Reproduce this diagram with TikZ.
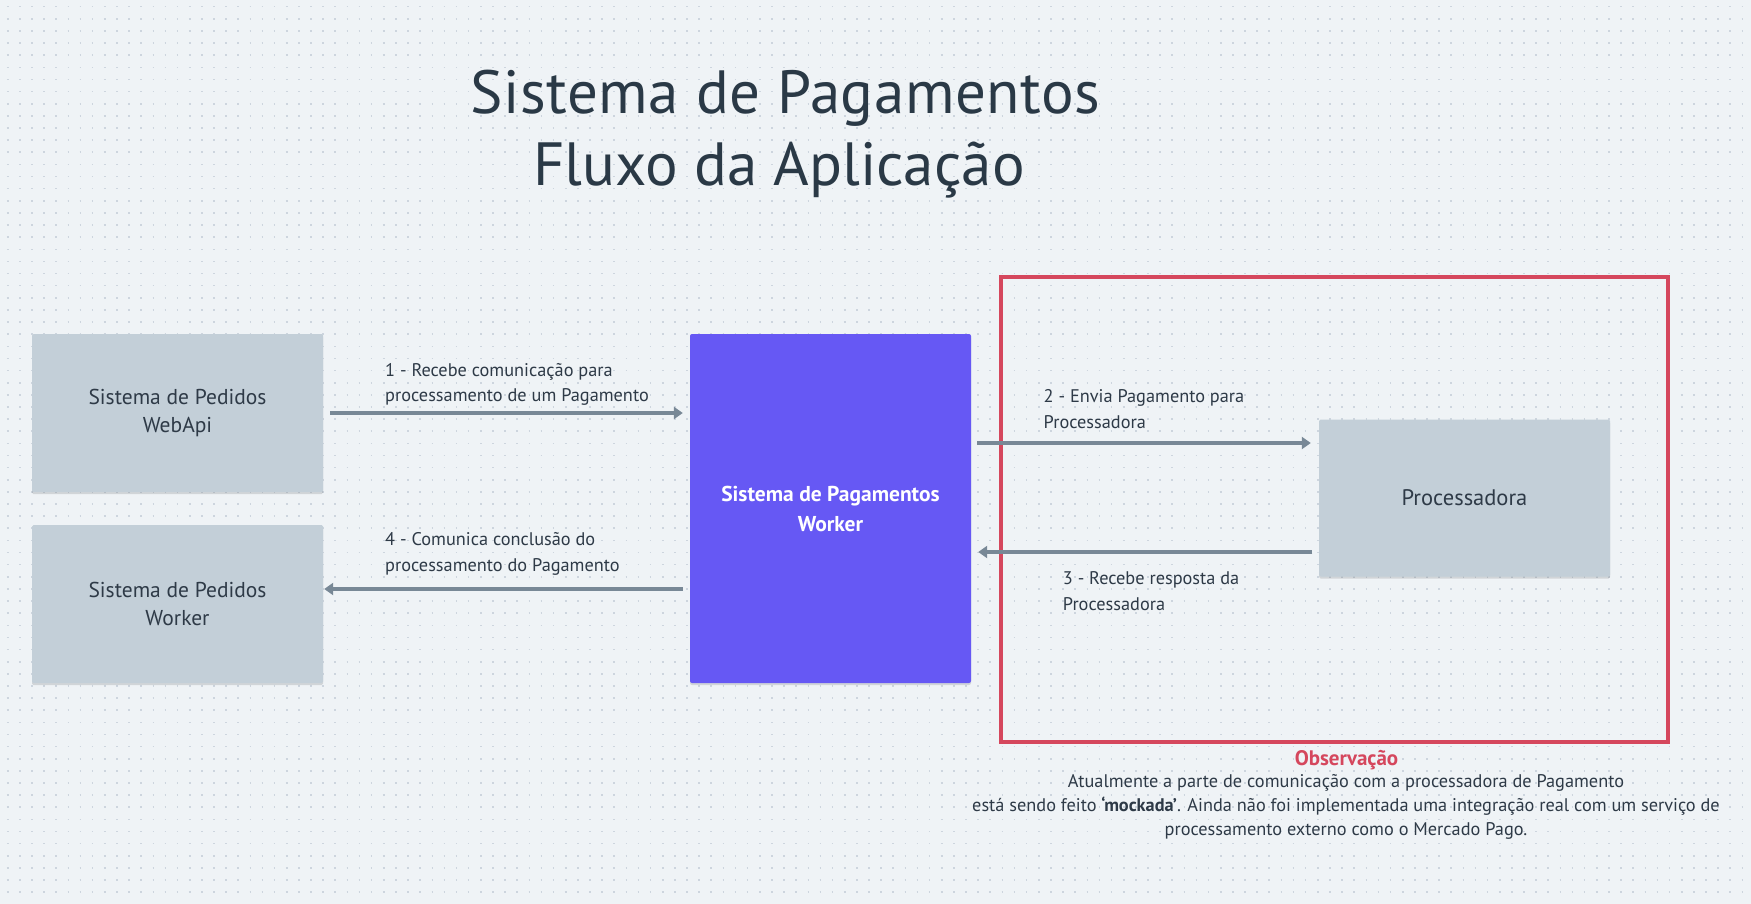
\documentclass[tikz,border=0pt]{standalone}
\usepackage{fontspec}
\setmainfont{PT Sans}
\usetikzlibrary{arrows.meta,shadows}
\definecolor{bgc}{HTML}{EFF3F6}
\definecolor{dotc}{HTML}{CDD5DE}
\definecolor{boxgray}{HTML}{C3CFD8}
\definecolor{purp}{HTML}{6658F4}
\definecolor{redf}{HTML}{D5475D}
\definecolor{arrc}{HTML}{788896}
\definecolor{txtc}{HTML}{2E3A47}
\definecolor{titc}{HTML}{2A3946}
\tikzset{
  graybox/.style={rectangle, fill=boxgray, rounded corners=1.5pt, text=txtc, align=center,
    inner sep=0pt, font=\fontsize{21.5}{28}\selectfont,
    drop shadow={shadow xshift=0pt, shadow yshift=-2pt, opacity=0.12, fill=black}},
  purpbox/.style={rectangle, fill=purp, rounded corners=2pt, text=white, align=center,
    inner sep=0pt, font=\fontsize{21.5}{30}\selectfont\bfseries,
    drop shadow={shadow xshift=0pt, shadow yshift=-2pt, opacity=0.12, fill=black}},
  lbl/.style={text=txtc, align=left, inner sep=0pt, anchor=west, font=\fontsize{18.3}{25.5}\selectfont},
  arr/.style={draw=arrc, line width=3.3pt, -{Triangle[length=9pt,width=12pt]}},
  titletxt/.style={text=titc, inner sep=0pt, anchor=base, font=\fontsize{61}{72}\selectfont},
  dotrow/.style={draw=dotc, line width=1.6pt, dash pattern=on 1.6pt off 10.53pt, dash phase=5.18pt},
}
\begin{document}
\begin{tikzpicture}[x=1pt,y=-1pt]
\useasboundingbox (0,0) rectangle (1751,904);
\fill[bgc] (0,0) rectangle (1751,904);
\foreach \k in {0,...,74}{
  \draw[dotrow] (0,{6.7+12.13*\k}) -- (1751,{6.7+12.13*\k});
}
% title
\node[titletxt] (t1) at (785.4,113.3) {\addfontfeature{LetterSpace=1.0}Sistema de Pagamentos};
\node[titletxt] (t2) at (778.9,186) {Fluxo da Aplicação};
% boxes
\node[graybox, minimum width=291pt, minimum height=158pt] (webapi) at (177.5,413) {Sistema de Pedidos\\WebApi};
\node[graybox, minimum width=291pt, minimum height=158pt] (pedworker) at (177.5,604) {Sistema de Pedidos\\Worker};
\node[purpbox, minimum width=281pt, minimum height=349pt] (pagworker) at (830.5,508.5) {Sistema de Pagamentos\\Worker};
\node[graybox, minimum width=291pt, minimum height=157pt, font=\fontsize{22.5}{28}\selectfont] (proc) at (1464.5,498) {Processadora};
% red frame
\draw[redf, line width=3.4pt] (1001,277) rectangle (1668,742);
% arrows
\draw[arr, shorten <=7pt, shorten >=7pt] (webapi.east) -- (webapi.east -| pagworker.west);
\draw[arr, shorten <=7pt, shorten >=1pt] ([yshift=15pt]pagworker.west |- pedworker.east) -- ([yshift=15pt]pedworker.east);
\draw[arr, shorten <=6pt, shorten >=8pt] ([yshift=55pt]pagworker.east |- proc.west) -- ([yshift=55pt]proc.west);
\draw[arr, shorten <=6.5pt, shorten >=7pt] ([yshift=-54pt]proc.west) -- ([yshift=-54pt]pagworker.east |- proc.west);
% labels
\node[lbl] (l1) at (385,384.6) {1 - Recebe comunicação para\\processamento de um Pagamento};
\node[lbl] (l4) at (385,554) {4 - Comunica conclusão do\\processamento do Pagamento};
\node[lbl] (l2) at (1043.5,409) {2 - Envia Pagamento para\\Processadora};
\node[lbl] (l3) at (1062.7,591) {3 - Recebe resposta da\\Processadora};
% observation
\node[text=redf, inner sep=0pt, font=\fontsize{21}{24}\selectfont\bfseries] (obs) at (1346.5,760.5) {Observação};
\node[text=txtc, inner sep=0pt, align=center, font=\fontsize{18.3}{24}\selectfont] (obstxt) at (1346,807) {Atualmente a parte de comunicação com a processadora de Pagamento\\está sendo feito \textbf{‘mockada’}. Ainda não foi implementada uma integração real com um serviço de\\processamento externo como o Mercado Pago.};
\end{tikzpicture}
\end{document}
